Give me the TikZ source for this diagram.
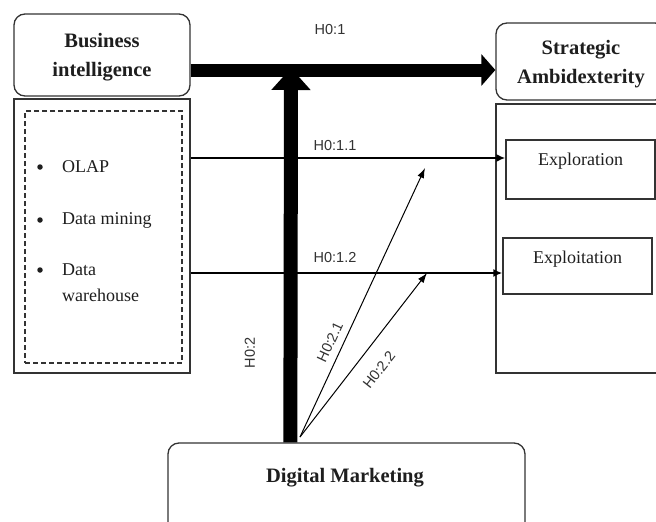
\documentclass[tikz,border=0pt]{standalone}
\usepackage{fontspec}
\setmainfont{Liberation Serif}
\newfontfamily\labelfont{Liberation Sans}
\usetikzlibrary{arrows.meta,calc}

\definecolor{ink}{HTML}{1E1E1E}
\definecolor{edge}{HTML}{333333}

\tikzset{
  roundbox/.style={draw=edge, line width=1.3pt, rounded corners=11pt, fill=white,
    minimum width=#1, inner sep=0pt},
  plainbox/.style={draw=edge, line width=1.3pt, inner sep=0pt},
  titletext/.style={font=\fontsize{20.5}{29.5}\selectfont\bfseries, text=ink, align=center},
  itemtext/.style={font=\fontsize{18}{25}\selectfont, text=ink, align=left, anchor=west, inner sep=0pt},
  bulletdot/.style={circle, fill=ink, minimum size=5.5pt, inner sep=0pt},
  hyplabel/.style={font=\labelfont\fontsize{14.5}{16}\selectfont, text=edge, inner sep=0pt},
  bigarrow/.style={draw=black, line width=#1},
  thinarrow/.style={draw=black, line width=1.8pt, -{Latex[length=9pt,width=8pt]}},
  diagarrow/.style={draw=black, line width=1pt, -{Latex[length=10pt,width=7pt]}},
}

\begin{document}
\begin{tikzpicture}[x=1pt, y=-1pt]
  \clip (0,0) rectangle (656,522);
  \fill[white] (0,0) rectangle (656,522);

  % left column: Business intelligence and its components
  \node[roundbox=176pt, minimum height=82pt] (bi) at (102,55) {};
  \node[titletext] at (102,57) {Business\\intelligence};
  \node[plainbox, minimum width=176pt, minimum height=274pt] (bilist) at (102,236) {};
  \node[draw=edge, line width=1.1pt, dashed, dash pattern=on 5pt off 3pt,
        minimum width=157pt, minimum height=252pt, inner sep=0pt] (dash) at (103.5,237) {};
  \node[bulletdot] (b1) at (40,167) {};
  \node[bulletdot] (b2) at (40,220) {};
  \node[bulletdot] (b3) at (40,270) {};
  \node[itemtext] (i1) at (62,167) {OLAP};
  \node[itemtext] (i2) at (62,220) {Data mining};
  \node[itemtext] (i3) at (62,270) {Data};
  \node[itemtext] (i4) at (62,295) {warehouse};

  % right column: Strategic Ambidexterity and its dimensions
  \node[roundbox=170pt, minimum height=77pt] (sa) at (581,61.5) {};
  \node[titletext] at (581,64) {Strategic\\Ambidexterity};
  \node[plainbox, minimum width=170pt, minimum height=269pt] (salist) at (581,238.5) {};
  \node[plainbox, minimum width=149pt, minimum height=59pt] (expl) at (580.5,169.5) {};
  \node[font=\fontsize{18}{22}\selectfont, text=ink] at (580.5,161) {Exploration};
  \node[plainbox, minimum width=149pt, minimum height=56pt] (expt) at (577.5,266) {};
  \node[font=\fontsize{18}{22}\selectfont, text=ink] at (577.5,259) {Exploitation};

  % bottom: Digital Marketing
  \node[roundbox=357pt, minimum height=94pt] (dm) at (346.5,490) {};
  \node[titletext] at (345,478) {Digital Marketing};

  % anchor points for the connectors
  \coordinate (hbar) at (0,70);
  \coordinate (rowA) at (0,158);
  \coordinate (rowB) at (0,273);
  \coordinate (vtip) at (291,68);
  \coordinate (dsrc) at (300,437);
  \coordinate (dendA) at (425,168);
  \coordinate (dendB) at (427,273);

  % H0:1 — Business intelligence to Strategic Ambidexterity
  \draw[bigarrow=13pt, -{Triangle[length=14pt,width=31pt]}]
       (bi.east |- hbar) -- (sa.west |- hbar);
  % H0:2 — Digital Marketing feeding the main relation
  \draw[bigarrow=14pt, -{Triangle[length=22pt,width=38pt]}]
       ($(dm.north west)+(123,0)$) -- (vtip);

  % H0:1.1 and H0:1.2
  \draw[thinarrow] (bilist.east |- rowA) -- (expl.west |- rowA);
  \draw[thinarrow] (bilist.east |- rowB) -- (expt.west |- rowB);

  % H0:2.1 and H0:2.2
  \draw[diagarrow] (dsrc) -- (dendA);
  \draw[diagarrow] (dsrc) -- (dendB);

  % hypothesis labels
  \node[hyplabel] (l1)  at (330,30)  {H0:1};
  \node[hyplabel] (l11) at (335,146) {H0:1.1};
  \node[hyplabel] (l12) at (335,258) {H0:1.2};
  \node[hyplabel, rotate=90] (l2) at (250,353) {H0:2};
  \node[hyplabel, rotate=65] (l21) at (330,342) {H0:2.1};
  \node[hyplabel, rotate=52] (l22) at (379,370) {H0:2.2};
\end{tikzpicture}
\end{document}
